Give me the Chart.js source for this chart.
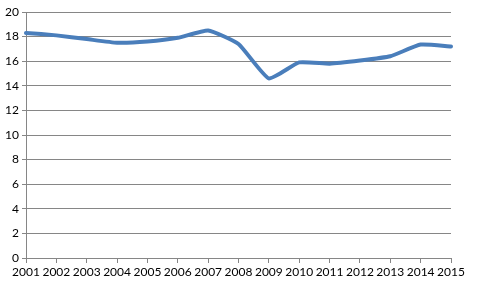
<!DOCTYPE html>
<html>
<head>
<meta charset="utf-8">
<script src="https://cdn.jsdelivr.net/npm/chart.js@4/dist/chart.umd.min.js"></script>
<style>
  html, body { margin: 0; padding: 0; background: #fff; }
  #wrap { width: 481px; height: 286px; }
</style>
</head>
<body>
<div id="wrap"><canvas id="myChart" width="481" height="286"></canvas></div>
<script>
/* years along the bottom and the values of the single series */
let years = ['2001', '2002', '2003', '2004', '2005', '2006', '2007', '2008',
             '2009', '2010', '2011', '2012', '2013', '2014', '2015'];
let values = [18.3, 18.1, 17.8, 17.5, 17.6, 17.9, 18.5, 17.4,
              14.6, 15.9, 15.8, 16.05, 16.4, 17.35, 17.2];
let yTicks = [0, 2, 4, 6, 8, 10, 12, 14, 16, 18, 20];

let gridGrey = '#868686';

let config = {
    type: 'line',
    data: {
        labels: years,
        datasets: [{
            data: values,
            borderColor: '#4a7ebb',
            borderWidth: 4,
            tension: 0.15,
            pointRadius: 0,
            borderCapStyle: 'round',
            borderJoinStyle: 'round',
            fill: false
        }]
    },
    options: {
        responsive: false,
        animation: false,
        layout: { padding: { top: 12, right: 30, left: 0, bottom: 0 } },
        plugins: { legend: { display: false }, tooltip: { enabled: false } },
        scales: {
            x: {
                type: 'category',
                offset: false,
                grid: { drawOnChartArea: false, drawTicks: true, tickLength: 5, color: gridGrey },
                border: { color: gridGrey, width: 1 },
                ticks: {
                    color: '#000',
                    font: { family: 'Lato', size: 12 },
                    maxRotation: 0,
                    autoSkip: false,
                    padding: 2
                },
                afterFit: function(scale){ scale.height = 28; }
            },
            y: {
                min: 0,
                max: 20,
                afterBuildTicks: function(scale){
                    scale.ticks = yTicks.map(v => ({ value: v }));
                },
                grid: { color: gridGrey, tickLength: 4, lineWidth: 1 },
                border: { color: gridGrey, width: 1 },
                ticks: {
                    color: '#000',
                    font: { family: 'Lato', size: 12 },
                    padding: 3
                },
                afterFit: function(scale){ scale.width = 26; }
            }
        }
    }
};

let myChart = new Chart(document.getElementById('myChart').getContext('2d'), config);
</script>
</body>
</html>
